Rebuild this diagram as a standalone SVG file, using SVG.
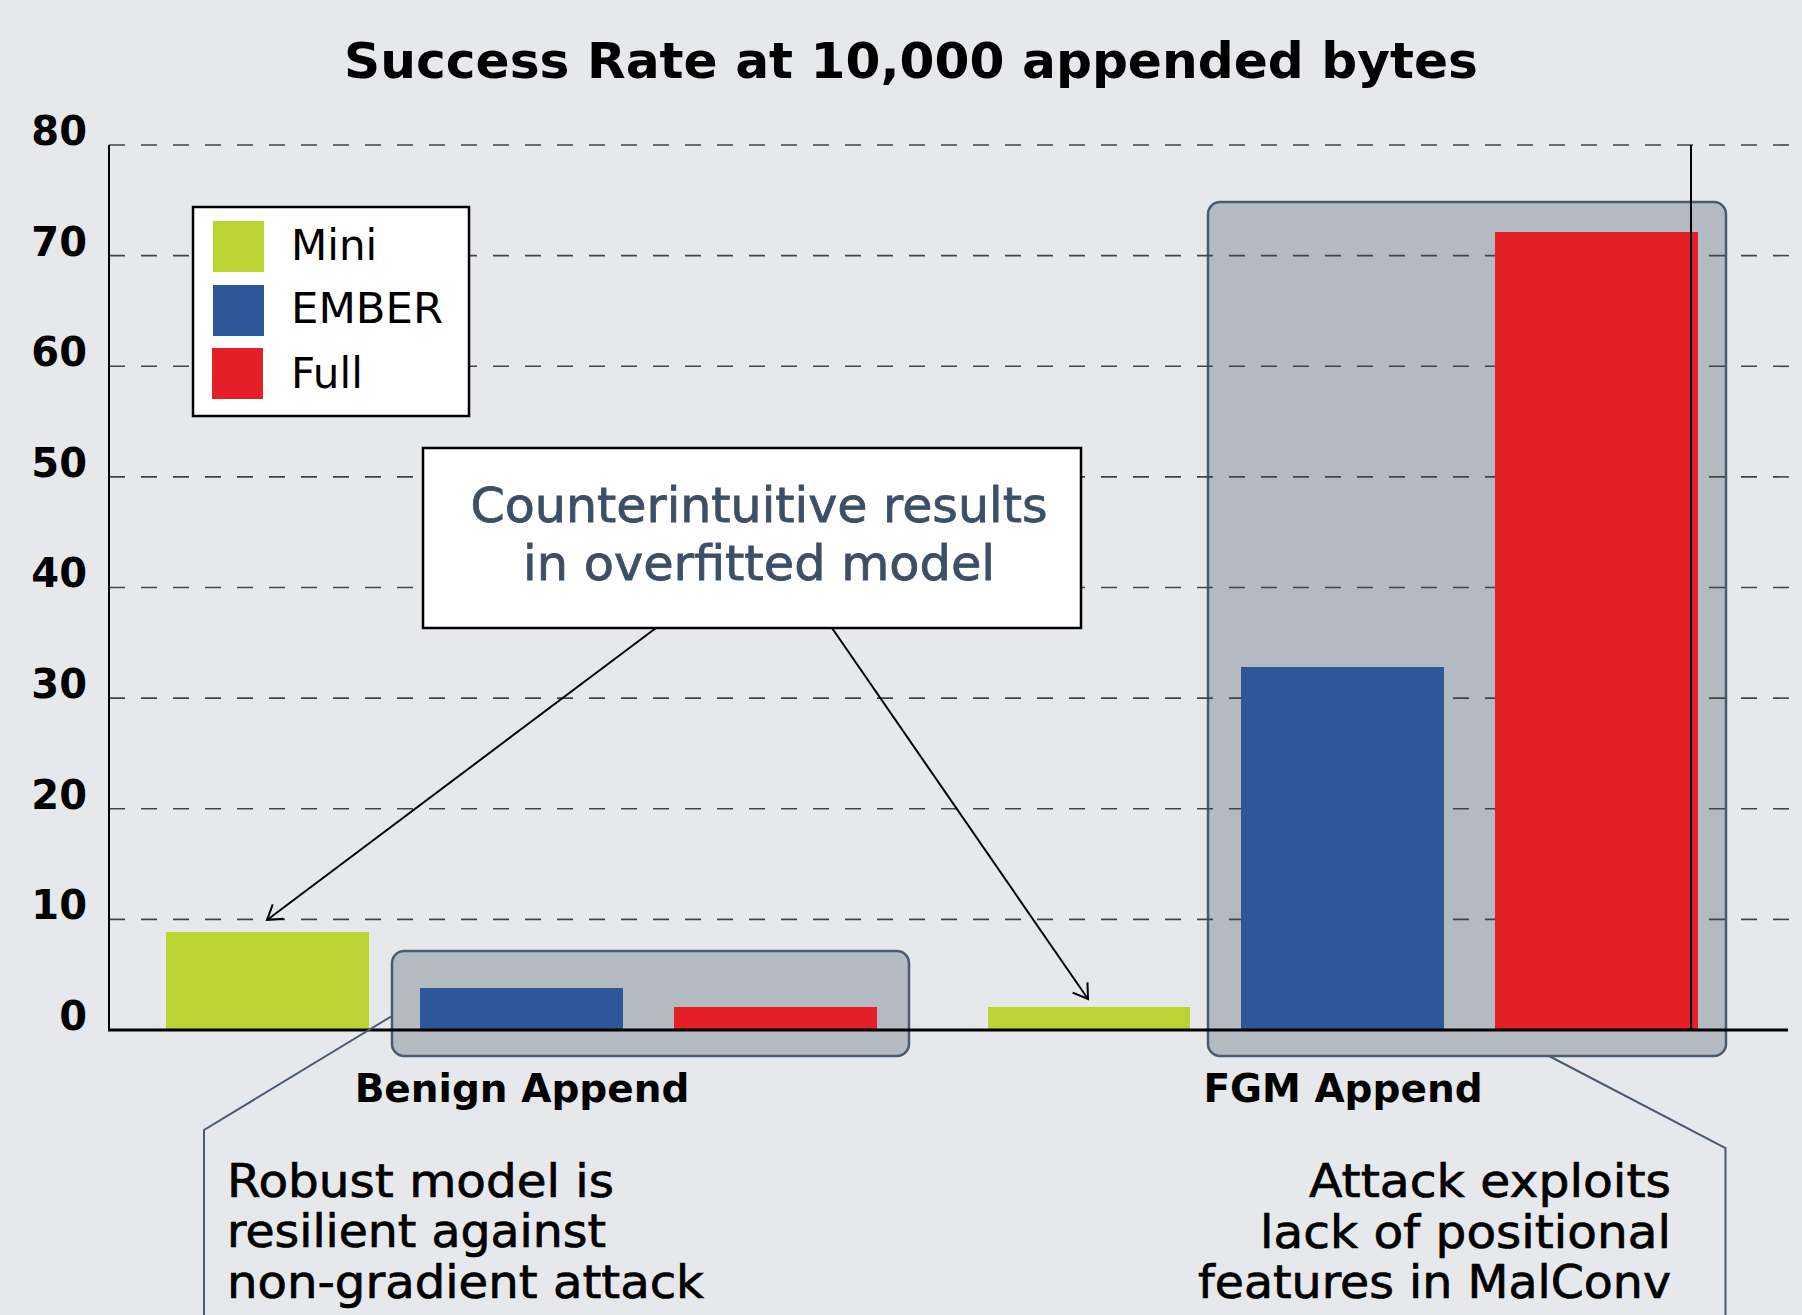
<svg xmlns="http://www.w3.org/2000/svg" width="1802" height="1315" viewBox="0 0 1802 1315">
<style>
.title{font-family:"DejaVu Sans","Liberation Sans",sans-serif;font-weight:bold;font-size:50px;fill:#000}
.tick{font-family:"DejaVu Sans","Liberation Sans",sans-serif;font-weight:bold;font-size:40px;fill:#000;text-anchor:end}
.leg{font-family:"DejaVu Sans","Liberation Sans",sans-serif;font-size:42px;fill:#000}
.cat{font-family:"DejaVu Sans","Liberation Sans",sans-serif;font-weight:bold;font-size:39px;fill:#000;text-anchor:middle}
.note{font-family:"DejaVu Sans","Liberation Sans",sans-serif;font-size:46px;fill:#000;stroke:#000;stroke-width:0.7}
.call{font-family:"DejaVu Sans","Liberation Sans",sans-serif;font-size:48px;fill:#3D4F66;stroke:#3D4F66;stroke-width:0.8;text-anchor:middle}
.grid{stroke:#444;stroke-width:1.6;stroke-dasharray:16 16;fill:none}
.hl{fill:#B3BAC2;stroke:#4A5B70;stroke-width:2.5}
.mini{fill:#BBD432}.ember{fill:#2E5799}.full{fill:#E41F26}
.arrow{stroke:#000;stroke-width:2;fill:none}
.lead{stroke:#4A5B70;stroke-width:2;fill:none}
</style>
<defs>
<marker id="ah" markerUnits="userSpaceOnUse" markerWidth="30" markerHeight="30" refX="15" refY="15" orient="auto" viewBox="0 0 30 30">
<path d="M1,6 L15,15 L1,24" stroke="#000" stroke-width="2" fill="none"/>
</marker>
</defs>
<rect width="1802" height="1315" fill="#E6E8EC"/>
<text class="title" x="911" y="78" text-anchor="middle" textLength="1134" lengthAdjust="spacingAndGlyphs">Success Rate at 10,000 appended bytes</text>

<g id="highlight-benign"><rect class="hl" x="392" y="951" width="517" height="105" rx="12"/></g>
<g id="highlight-fgm"><rect class="hl" x="1208" y="202" width="518" height="854" rx="12"/></g>

<g id="grid">
<line class="grid" x1="109" y1="145" x2="1802" y2="145"/>
<line class="grid" x1="109" y1="255.6" x2="1802" y2="255.6"/>
<line class="grid" x1="109" y1="366.3" x2="1802" y2="366.3" stroke="#666"/>
<line class="grid" x1="109" y1="476.9" x2="1802" y2="476.9"/>
<line class="grid" x1="109" y1="587.5" x2="1802" y2="587.5"/>
<line class="grid" x1="109" y1="698.1" x2="1802" y2="698.1" stroke="#666"/>
<line class="grid" x1="109" y1="808.8" x2="1802" y2="808.8"/>
<line class="grid" x1="109" y1="919.4" x2="1802" y2="919.4"/>
</g>

<g id="y-labels">
<text class="tick" x="87" y="145">80</text>
<text class="tick" x="87" y="256">70</text>
<text class="tick" x="87" y="366">60</text>
<text class="tick" x="87" y="477">50</text>
<text class="tick" x="87" y="587">40</text>
<text class="tick" x="87" y="698">30</text>
<text class="tick" x="87" y="809">20</text>
<text class="tick" x="87" y="919">10</text>
<text class="tick" x="87" y="1030">0</text>
</g>

<g id="bars">
<rect id="bar-benign-mini" class="mini" x="166" y="932" width="203" height="98"/>
<rect id="bar-benign-ember" class="ember" x="420" y="988" width="203" height="42"/>
<rect id="bar-benign-full" class="full" x="674" y="1007" width="203" height="23"/>
<rect id="bar-fgm-mini" class="mini" x="988" y="1007" width="202" height="23"/>
<rect id="bar-fgm-ember" class="ember" x="1241" y="667" width="203" height="363"/>
<rect id="bar-fgm-full" class="full" x="1495" y="232" width="203" height="798"/>
</g>

<g id="axes">
<line x1="109" y1="145" x2="109" y2="1031" stroke="#000" stroke-width="2"/>
<line x1="108" y1="1030" x2="1788" y2="1030" stroke="#000" stroke-width="3"/>
<line x1="1691" y1="145" x2="1691" y2="1031" stroke="#000" stroke-width="2"/>
</g>

<g id="legend">
<rect x="193" y="207" width="276" height="209" fill="#fff" stroke="#000" stroke-width="2.5"/>
<rect class="mini" x="213" y="221" width="51" height="51"/>
<rect class="ember" x="213" y="285" width="51" height="51"/>
<rect class="full" x="212" y="348" width="51" height="51"/>
<text class="leg" x="291" y="260">Mini</text>
<text class="leg" x="291" y="323" textLength="152" lengthAdjust="spacingAndGlyphs">EMBER</text>
<text class="leg" x="291" y="388">Full</text>
</g>

<g id="x-labels">
<text class="cat" x="522" y="1102">Benign Append</text>
<text class="cat" x="1343" y="1102">FGM Append</text>
</g>

<g id="connectors">
<line class="arrow" x1="656" y1="628" x2="267" y2="920" marker-end="url(#ah)"/>
<line class="arrow" x1="832" y1="628" x2="1088" y2="999" marker-end="url(#ah)"/>
<polyline class="lead" points="392,1016 204,1130 204,1315"/>
<polyline class="lead" points="1549,1056 1725.5,1148 1725.5,1315"/>
</g>

<g id="callout">
<rect x="423" y="448" width="658" height="180" fill="#fff" stroke="#000" stroke-width="2.5"/>
<text class="call" x="759" y="522" textLength="577" lengthAdjust="spacingAndGlyphs">Counterintuitive results</text>
<text class="call" x="759" y="580" textLength="472" lengthAdjust="spacingAndGlyphs">in overfitted model</text>
</g>

<g id="note-benign">
<text class="note" x="227" y="1197" textLength="387" lengthAdjust="spacingAndGlyphs">Robust model is</text>
<text class="note" x="227" y="1247" textLength="379" lengthAdjust="spacingAndGlyphs">resilient against</text>
<text class="note" x="227" y="1298" textLength="477" lengthAdjust="spacingAndGlyphs">non-gradient attack</text>
</g>

<g id="note-fgm">
<text class="note" x="1671" y="1197" text-anchor="end" textLength="362" lengthAdjust="spacingAndGlyphs">Attack exploits</text>
<text class="note" x="1671" y="1248" text-anchor="end" textLength="411" lengthAdjust="spacingAndGlyphs">lack of positional</text>
<text class="note" x="1671" y="1298" text-anchor="end" textLength="473" lengthAdjust="spacingAndGlyphs">features in MalConv</text>
</g>
</svg>
